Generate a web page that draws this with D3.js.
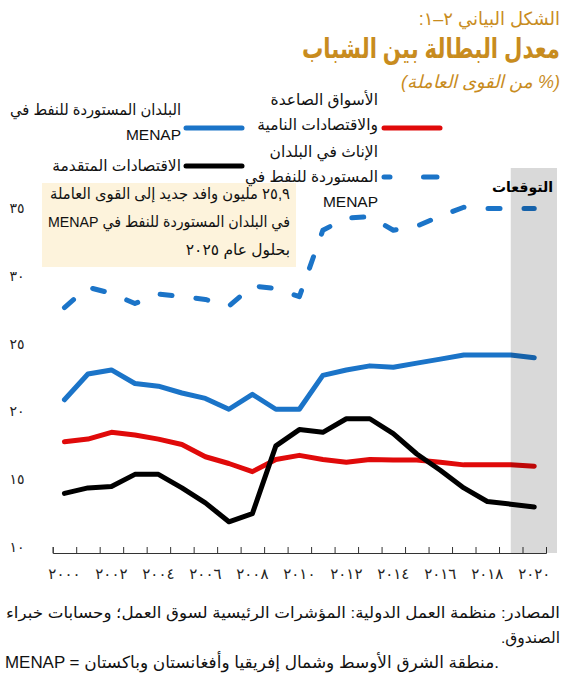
<!DOCTYPE html>
<html>
<head>
<meta charset="utf-8">
<script src="https://cdn.jsdelivr.net/npm/d3@7"></script>
<style>
  body { margin: 0; background: #fff; }
  svg { font-family: "Liberation Sans", "DejaVu Sans", sans-serif; }
</style>
</head>
<body>
<div id="chart"></div>
<script>
// years on the category axis
var years = d3.range(2000, 2021)
var xTickYears = [2000, 2002, 2004, 2006, 2008, 2010, 2012, 2014, 2016, 2018, 2020]
var xTickLabels = ['٢٠٠٠', '٢٠٠٢', '٢٠٠٤', '٢٠٠٦', '٢٠٠٨', '٢٠١٠', '٢٠١٢', '٢٠١٤', '٢٠١٦', '٢٠١٨', '٢٠٢٠']
var yTicks = [10, 15, 20, 25, 30, 35]
var yTickLabels = ['١٠', '١٥', '٢٠', '٢٥', '٣٠', '٣٥']

// series values (percent of labor force)
var menapOil = [21.3, 23.2, 23.5, 22.5, 22.3, 21.8, 21.4, 20.6, 21.7, 20.6, 20.6, 23.1, 23.5, 23.8, 23.7, 24.0, 24.3, 24.6, 24.6, 24.6, 24.4]
var emde = [18.2, 18.4, 18.9, 18.7, 18.4, 18.0, 17.1, 16.6, 16.0, 16.9, 17.2, 16.9, 16.7, 16.9, 16.85, 16.85, 16.7, 16.5, 16.5, 16.5, 16.4]
var advanced = [14.4, 14.8, 14.9, 15.8, 15.8, 14.8, 13.7, 12.3, 12.9, 17.9, 19.1, 18.9, 19.9, 19.9, 18.8, 17.3, 16.1, 14.8, 13.8, 13.6, 13.4]
var femaleMenap = [28.1, 29.6, 29.15, 28.4, 29.1, 28.9, 28.7, 28.2, 29.7, 29.5, 28.9, 33.8, 34.7, 34.8, 33.8, 34.1, 34.85, 35.5, 35.4, 35.4, 35.4]
var forecastYears = [2019, 2020]

var gold = '#C88C1E'
var blue = '#1B74C8'
var red = '#E00A0A'

var svg = d3.select('#chart')
    .append('svg')
    .attr('width', 570)
    .attr('height', 677)

var x = d3.scaleBand()
    .domain(years)
    .range([52.7, 546])
var xEdge = d3.scaleLinear()
    .domain([0, years.length])
    .range([52.7, 546])
var y = d3.scaleLinear()
    .domain([10, 35])
    .range([553, 214])

var cx = d => x(d) + x.bandwidth() / 2

// right-to-left text helper
function rtl(sel) {
    return sel.attr('direction', 'rtl').attr('text-anchor', 'start')
}

// title block
var title = svg.append('g').attr('fill', gold)
rtl(title.append('text')).attr('x', 560).attr('y', 25).attr('font-size', 18).text('الشكل البياني ٢–١:')
rtl(title.append('text')).attr('transform', 'translate(560,58) scale(0.76,1)')
    .attr('font-size', 28).attr('font-weight', 'bold')
    .text('معدل البطالة بين الشباب')
rtl(title.append('text')).attr('x', 560).attr('y', 88).attr('font-size', 18).attr('font-style', 'italic').text('(% من القوى العاملة)')

// annotation box
svg.append('rect')
    .attr('x', 42).attr('y', 183).attr('width', 254).attr('height', 84)
    .attr('fill', '#FDF3DC')
var noteLines = ['٢٥,٩ مليون وافد جديد إلى القوى العاملة', 'في البلدان المستوردة للنفط في MENAP', 'بحلول عام ٢٠٢٥']
var noteWidths = [240, 242, null]
rtl(svg.append('g').attr('font-size', 15.5).attr('fill', '#111')
    .selectAll('text')
    .data(noteLines)
    .enter()
    .append('text'))
    .attr('x', 290)
    .attr('y', (d, i) => 199 + i * 28)
    .attr('textLength', (d, i) => noteWidths[i])
    .attr('lengthAdjust', 'spacingAndGlyphs')
    .text(d => d)

// y tick labels
svg.append('g')
    .selectAll('text')
    .data(yTicks)
    .enter()
    .append('text')
    .attr('x', 17)
    .attr('y', d => y(d) - 1)
    .attr('text-anchor', 'middle')
    .attr('font-size', 14)
    .attr('fill', '#222')
    .text((d, i) => yTickLabels[i])

// x axis with ticks between categories
var axis = svg.append('g')
    .attr('transform', 'translate(0,553)')
    .call(d3.axisBottom(xEdge).ticks(years.length).tickSize(-6).tickFormat(''))
axis.selectAll('path, line').attr('stroke', '#333').attr('stroke-width', 1)

var labels = svg.append('g')
    .attr('transform', 'translate(0,553)')
    .call(d3.axisBottom(x).tickValues(xTickYears).tickSize(0).tickPadding(15)
        .tickFormat(d => xTickLabels[xTickYears.indexOf(d)]))
labels.select('.domain').remove()
labels.selectAll('text').attr('font-size', 15).attr('fill', '#222').attr('font-family', '"DejaVu Sans", sans-serif')

// lines
var line = d3.line()
    .x((d, i) => cx(years[i]))
    .y(d => y(d))

var series = [
    { values: emde, color: red, dash: null },
    { values: advanced, color: '#000', dash: null },
    { values: menapOil, color: blue, dash: null },
    { values: femaleMenap, color: blue, dash: '12,24' }
]
svg.append('g')
    .selectAll('path')
    .data(series)
    .enter()
    .append('path')
    .attr('d', d => line(d.values))
    .attr('fill', 'none')
    .attr('stroke', d => d.color)
    .attr('stroke-width', 5)
    .attr('stroke-linejoin', 'round')
    .attr('stroke-linecap', 'round')
    .attr('stroke-dasharray', d => d.dash)

// forecast shading over the lines
var bandLeft = cx(forecastYears[0])
svg.append('rect')
    .attr('x', bandLeft)
    .attr('y', 168)
    .attr('width', 557 - bandLeft)
    .attr('height', 553 - 168)
    .attr('fill', '#000')
    .attr('fill-opacity', 0.15)
rtl(svg.append('text'))
    .attr('x', 553).attr('y', 192)
    .attr('font-size', 14).attr('font-weight', 'bold')
    .text('التوقعات')

// legend
var legend = [
    { lines: ['البلدان المستوردة للنفط في', 'MENAP'], widths: [171, null], tx: 181, ty: 115, x1: 183, x2: 245, ly: 128, color: blue, dash: null },
    { lines: ['الأسواق الصاعدة', 'والاقتصادات النامية'], widths: [null, null], tx: 378, ty: 105, x1: 381, x2: 443, ly: 128, color: red, dash: null },
    { lines: ['الاقتصادات المتقدمة'], widths: [null], tx: 181, ty: 171, x1: 183, x2: 245, ly: 166, color: '#000', dash: null },
    { lines: ['الإناث في البلدان', 'المستوردة للنفط في', 'MENAP'], widths: [null, null, null], tx: 378, ty: 157, x1: 381, x2: 440, ly: 177, color: blue, dash: '6,33.5,15,40' }
]
var lg = svg.append('g').selectAll('g').data(legend).enter().append('g')
lg.append('line')
    .attr('x1', d => d.x1 + 3).attr('x2', d => d.x2 - 3)
    .attr('y1', d => d.ly).attr('y2', d => d.ly)
    .attr('stroke', d => d.color).attr('stroke-width', 5)
    .attr('stroke-linecap', 'round')
    .attr('stroke-dasharray', d => d.dash)
lg.each(function(d) {
    rtl(d3.select(this).selectAll('text')
        .data(d.lines)
        .enter()
        .append('text'))
        .attr('x', d.tx)
        .attr('y', (t, i) => d.ty + i * 25)
        .attr('textLength', (t, i) => d.widths[i])
        .attr('lengthAdjust', 'spacingAndGlyphs')
        .attr('font-size', 15.5).attr('fill', '#111')
        .text(t => t)
})

// sources
var src = svg.append('g').attr('font-size', 15.5).attr('fill', '#111')
rtl(src.append('text')).attr('x', 560).attr('y', 618)
    .attr('textLength', 554).attr('lengthAdjust', 'spacingAndGlyphs')
    .text('المصادر: منظمة العمل الدولية: المؤشرات الرئيسية لسوق العمل؛ وحسابات خبراء')
rtl(src.append('text')).attr('x', 560).attr('y', 643)
    .text('الصندوق.')
src.append('text').attr('x', 5).attr('y', 668)
    .attr('font-size', 16.5)
    .attr('textLength', 494).attr('lengthAdjust', 'spacingAndGlyphs')
    .text('MENAP = منطقة الشرق الأوسط وشمال إفريقيا وأفغانستان وباكستان.')
</script>
</body>
</html>
